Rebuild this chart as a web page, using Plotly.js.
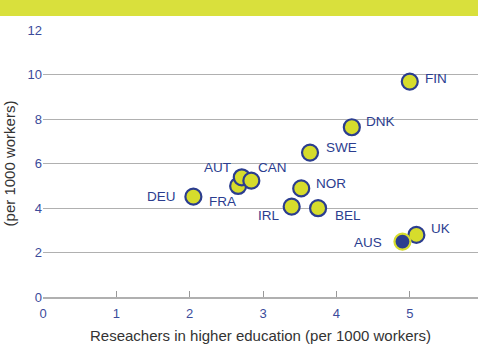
<!DOCTYPE html>
<html>
<head>
<meta charset="utf-8">
<script src="https://cdn.plot.ly/plotly-3.0.1.min.js"></script>
<style>html,body{margin:0;padding:0;background:#fff;}#chart{width:490px;height:360px;}</style>
</head>
<body>
<div id="chart"></div>
<script>
const countries = ["FIN","DNK","SWE","NOR","BEL","IRL","FRA","DEU","AUT","CAN","UK","AUS"];
const higherEd = [5.00, 4.21, 3.64, 3.52, 3.75, 3.39, 2.66, 2.05, 2.71, 2.84, 5.09, 4.90];
const totalRes = [9.68, 7.63, 6.49, 4.88, 3.99, 4.06, 4.99, 4.51, 5.38, 5.23, 2.79, 2.49];
const xTicks = [0, 1, 2, 3, 4, 5];
const yTicks = [0, 2, 4, 6, 8, 10, 12];

const BLUE = "#2b3d8f";
const YEL = "#d6dc2c";
const labelStyle = {
  FIN: ["left", 13, 3], DNK: ["left", 12, 6], SWE: ["left", 14, 5], NOR: ["left", 13, 5],
  BEL: ["left", 15, -7], IRL: ["right", -10, -9], FRA: ["right", 0, -16], DEU: ["right", -15, 0],
  AUT: ["right", -9, 10], CAN: ["left", 5, 13], UK: ["left", 13, 6], AUS: ["right", -18, -1]
};

const fills = countries.map(c => c === "AUS" ? BLUE : YEL);
const lines = countries.map(c => c === "AUS" ? YEL : BLUE);

const trace = {
  type: "scatter", mode: "markers",
  x: higherEd, y: totalRes, text: countries, hoverinfo: "text",
  marker: {size: 16, color: fills, line: {color: lines, width: 2.2}},
  cliponaxis: false
};

const annotations = countries.map((c, i) => {
  const s = labelStyle[c];
  return {x: higherEd[i], y: totalRes[i], xref: "x", yref: "y", text: c, showarrow: false,
    xanchor: s[0], yanchor: "middle", xshift: s[1], yshift: s[2],
    font: {family: "Liberation Sans, Arial, sans-serif", size: 13.5, color: BLUE}};
});

const layout = {
  width: 490, height: 360,
  margin: {l: 43, r: 12, t: 30, b: 63},
  paper_bgcolor: "#fff", plot_bgcolor: "#fff",
  showlegend: false,
  font: {family: "Liberation Sans, Arial, sans-serif", color: "#333"},
  xaxis: {
    range: [0, 5.93], tickvals: xTicks, ticktext: xTicks.map(String),
    showgrid: false, zeroline: false, showline: true, linecolor: "#b0b0b0", linewidth: 1.5,
    ticks: "inside", ticklen: 6, tickcolor: "#999", tickwidth: 1,
    ticklabelstandoff: 4,
    tickfont: {size: 13, color: "#3b4b9b"},
    title: {text: "Reseachers in higher education (per 1000 workers)", font: {size: 15, color: "#333"}, standoff: 10}
  },
  yaxis: {
    range: [0, 12], tickvals: yTicks, ticktext: yTicks.map(String),
    showgrid: true, gridcolor: "#b0b0b0", gridwidth: 1, zeroline: false, showline: false,
    ticks: "", tickfont: {size: 13, color: "#3b4b9b"},
    title: {text: "(per 1000 workers)", font: {size: 15, color: "#333"}, standoff: 8}
  },
  shapes: [{type: "rect", xref: "paper", yref: "paper", x0: -0.099, x1: 1, y0: 1.0524, y1: 1.13,
    fillcolor: "#d9e03c", line: {width: 0}, layer: "below"}],
  annotations: annotations
};

Plotly.newPlot("chart", [trace], layout, {displayModeBar: false, staticPlot: true});
</script>
</body>
</html>
